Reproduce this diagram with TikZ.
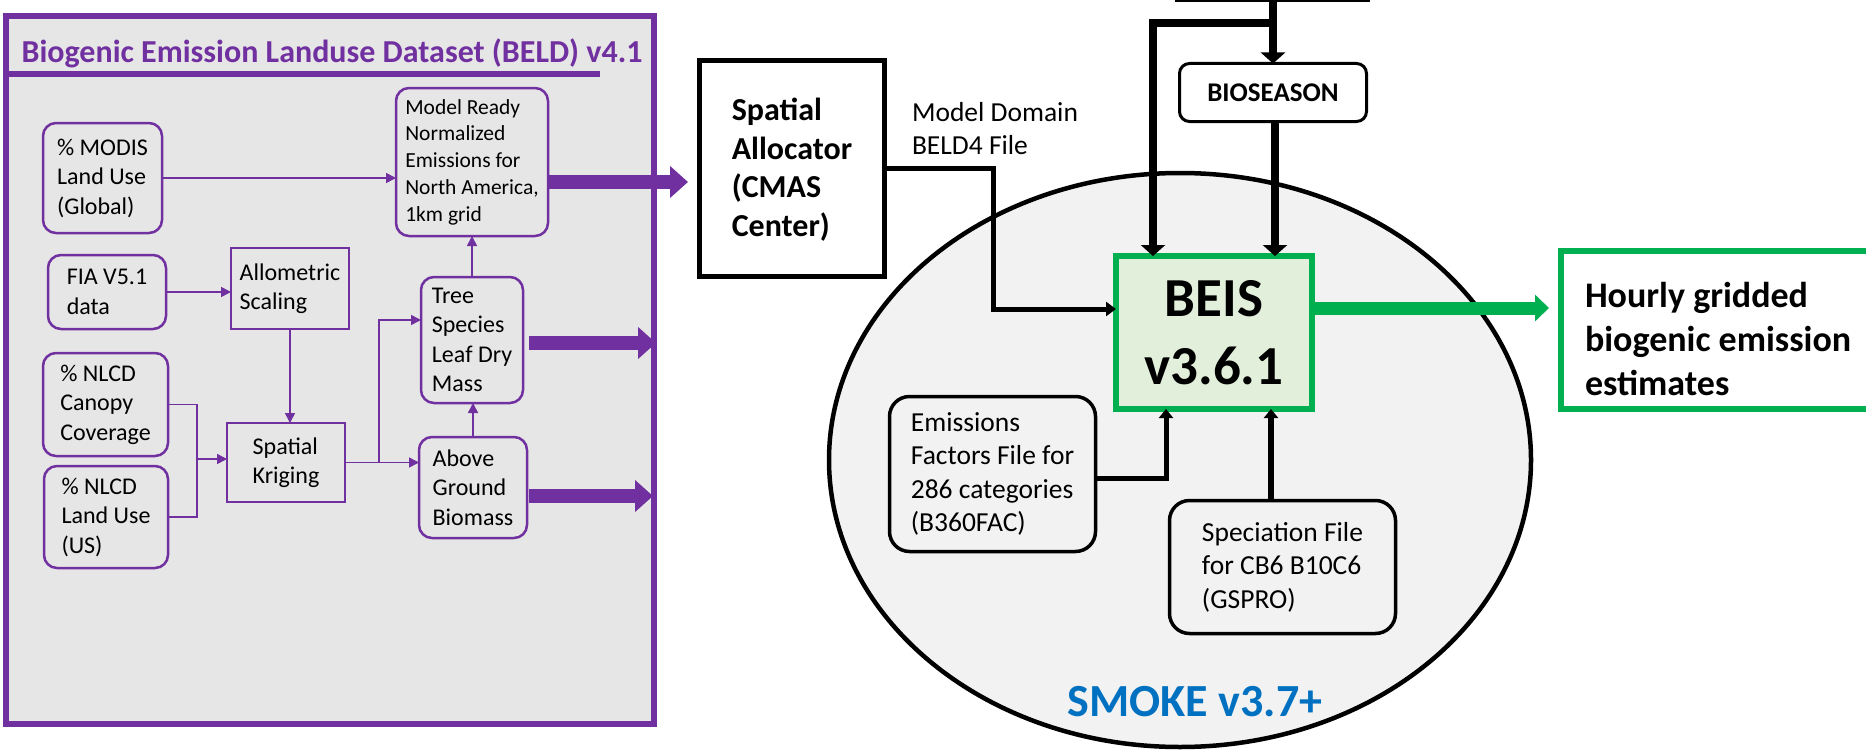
\documentclass[tikz,border=0pt]{standalone}
\usepackage{fontspec}
\setmainfont{Carlito}
\usetikzlibrary{arrows.meta,shapes.geometric}
\definecolor{beldpurple}{HTML}{7030A0}
\definecolor{panelgray}{HTML}{E7E6E6}
\definecolor{smokegray}{HTML}{F2F2F2}
\definecolor{beisgreen}{HTML}{00B050}
\definecolor{beisfill}{HTML}{E2EFDA}
\definecolor{smokeblue}{HTML}{0070C0}
\newcommand{\fsz}[2]{\fontsize{#1}{#2}\selectfont}
\begin{document}
\begin{tikzpicture}[x=1pt,y=-1pt,
 every node/.style={inner sep=0pt,outer sep=0pt},
 pround/.style={draw=beldpurple,line width=2.5pt,rounded corners=13pt,align=left,font=\fsz{24}{29.5}},
 psquare/.style={draw=beldpurple,line width=2.5pt,align=left,font=\fsz{24}{29.5}},
 pline/.style={draw=beldpurple,line width=1.6pt},
 parrow/.style={pline,-{Triangle[length=10pt,width=10pt]}},
 bigarrow/.style={draw=beldpurple,line width=14pt,-{Triangle[length=18pt,width=31pt]}},
 blkarrow/.style={draw=black,line width=5pt,-{Triangle[length=10pt,width=14pt]}},
 fatarrow/.style={draw=black,line width=8pt,-{Triangle[length=11pt,width=24pt]}},
 rbox/.style={draw=black,line width=3.5pt,rounded corners=20pt,align=left,font=\fsz{27.5}{33.5}},
]
\useasboundingbox (0,0) rectangle (1866,752);

% ---------------- left panel ----------------
\node[draw=beldpurple,fill=panelgray,line width=6pt,minimum width=648pt,minimum height=708pt] (panel) at (330,370) {};
\node[font=\bfseries\fsz{32}{38},text=beldpurple] (title) at (332,53) {Biogenic Emission Landuse Dataset (BELD) v4.1};
\coordinate (ulA) at (4,74);
\coordinate (ulB) at (600,74);
\draw[beldpurple,line width=6pt] (ulA) -- (ulB);

\node[pround,minimum width=119pt,minimum height=110pt] (modis) at (102.5,178) {\% MODIS\\Land Use\\(Global)};
\node[pround,minimum width=152pt,minimum height=148pt,font=\fsz{21.5}{26.7}] (model) at (472,162) {Model Ready\\Normalized\\Emissions for\\North America,\\1km grid};
\node[pround,minimum width=118pt,minimum height=74pt] (fia) at (107,292) {FIA V5.1\\data};
\node[psquare,minimum width=118pt,minimum height=81pt] (allo) at (290,288.5) {Allometric\\Scaling};
\node[pround,minimum width=125pt,minimum height=103pt] (canopy) at (105.5,404.5) {\% NLCD\\Canopy\\Coverage};
\node[pround,minimum width=124pt,minimum height=102pt] (landus) at (106,517) {\% NLCD\\Land Use\\(US)};
\node[psquare,minimum width=118pt,minimum height=79pt] (krig) at (286,462.5) {Spatial\\Kriging};
\node[pround,minimum width=102pt,minimum height=126pt] (tree) at (472,340) {Tree\\Species\\Leaf Dry\\Mass};
\node[pround,minimum width=108pt,minimum height=101pt] (above) at (473,487.5) {Above\\Ground\\Biomass};

\draw[parrow] (modis.east) -- (model.west |- modis.east);
\draw[parrow] (fia.east) -- (allo.west |- fia.east);
\draw[parrow] (allo.south) -- (allo.south |- krig.north);
\coordinate (mrg) at (197,459);
\draw[pline] (canopy.east) -| (mrg) |- (landus.east);
\draw[parrow] (mrg) -- (krig.west |- mrg);
\draw[parrow] (krig.east) -- (above.west |- krig.east);
\coordinate (br) at (379,462.5);
\draw[parrow] (br) |- ([yshift=20pt]tree.west);
\draw[parrow] (above.north) -- (above.north |- tree.south);
\draw[parrow] (tree.north) -- (tree.north |- model.south);

\coordinate (tipA) at (688,182);
\coordinate (tipB) at (656,343);
\coordinate (tipC) at (653,496);
\draw[bigarrow] ([yshift=-20pt]model.east) -- (tipA);
\draw[bigarrow] ([shift={(6pt,-3pt)}]tree.east) -- (tipB);
\draw[bigarrow] ([shift={(2pt,-8.5pt)}]above.east) -- (tipC);

% ---------------- right part ----------------
\node[ellipse,draw=black,fill=smokegray,line width=4.5pt,minimum width=702pt,minimum height=574pt] (smoke) at (1180,460) {};

\node[draw=black,line width=5pt,fill=white,minimum width=185pt,minimum height=216pt] (sa) at (792,168.5) {};
\node[align=left,font=\bfseries\fsz{32}{38.5}] (satext) at ([yshift=-1pt]sa.center) {Spatial\\Allocator\\(CMAS\\Center)};
\node[anchor=west,align=left,font=\fsz{27.5}{33}] (dom) at (912,128.5) {Model Domain\\BELD4 File};

\node[draw=black,line width=3pt,fill=white,rounded corners=10pt,minimum width=187pt,minimum height=58pt,font=\bfseries\fsz{27}{32}] (bios) at (1273,92.5) {BIOSEASON};

\node[draw=beisgreen,fill=beisfill,line width=6pt,minimum width=196pt,minimum height=153pt,align=center,font=\bfseries\fsz{55}{68}] (beis) at (1214,332.5) {BEIS\\v3.6.1};

\node[rbox,minimum width=206pt,minimum height=155pt] (emis) at (992.5,474) {Emissions\\Factors File for\\286 categories\\(B360FAC)};
\node[rbox,minimum width=226pt,minimum height=133pt] (spec) at (1282.5,567) {Speciation File\\for CB6 B10C6\\(GSPRO)};

\node[font=\bfseries\fsz{46}{55},text=smokeblue] (smokelbl) at (1195,702) {SMOKE v3.7+};

% hourly box (right border beyond the page)
\node[minimum width=319pt,minimum height=158pt] (hourly) at (1720.5,330) {};
\draw[draw=beisgreen,line width=6pt] (hourly.north east) -- (hourly.north west) -- (hourly.south west) -- (hourly.south east);
\node[anchor=west,align=left,font=\bfseries\fsz{36}{44}] (hourlytext) at ([shift={(24pt,-8.5pt)}]hourly.west) {Hourly gridded\\biogenic emission\\estimates};

% connectors
\coordinate (dbend) at (993,309);
\draw[blkarrow] (sa.east) -| (dbend) -- (beis.west |- dbend);

\coordinate (tl1) at (1175,1);
\coordinate (tl2) at (1370,1);
\draw[line width=2pt] (tl1) -- (tl2);
\coordinate (topin) at (1273,0);
\coordinate (tsplit) at (1273,23);
\coordinate (lbr) at (1153,23);
\draw[fatarrow] (topin) -- (bios.north);
\draw[fatarrow] (tsplit) -- (lbr) -- (lbr |- beis.north);
\draw[fatarrow] ([xshift=2pt]bios.south) -- ([xshift=2pt]bios.south |- beis.north);

\coordinate (gtip) at (1549,308);
\draw[draw=beisgreen,line width=13pt,-{Triangle[length=14pt,width=26pt]}] ([yshift=24.5pt]beis.east) -- (gtip);

\coordinate (ebend) at (1166,478);
\draw[draw=black,line width=5pt,-{Triangle[length=9pt,width=14pt]}] (emis.east |- ebend) -- (ebend) -- (ebend |- beis.south);
\draw[draw=black,line width=6pt,-{Triangle[length=9pt,width=14pt]}] ([xshift=-11.5pt]spec.north) -- ([xshift=-11.5pt]spec.north |- beis.south);
\end{tikzpicture}
\end{document}
